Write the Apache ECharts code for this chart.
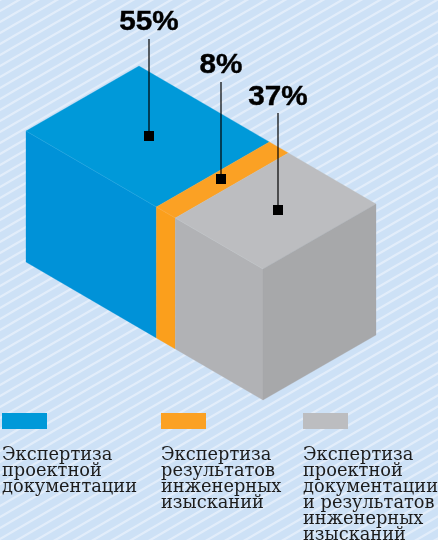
<!DOCTYPE html>
<html><head><meta charset="utf-8">
<style>html,body{margin:0;padding:0;background:#cde1f6}#c{width:438px;height:540px}</style>
<script src="https://cdn.jsdelivr.net/npm/echarts@6/dist/echarts.min.js"></script>
</head><body><div id="c"></div>
<script>
// ---- data ----
const shares = [55, 8, 37];
const shareLabels = ['55%', '8%', '37%'];
const categories = [
  ['Экспертиза', 'проектной', 'документации'],
  ['Экспертиза', 'результатов', 'инженерных', 'изысканий'],
  ['Экспертиза', 'проектной', 'документации', 'и результатов', 'инженерных', 'изысканий']
];
// ---- style ----
const topColors = ['#0099d9', '#fba124', '#bcbdc0'];
const leftColors = ['#0092d8', '#fb9f1c', '#b1b2b5'];
const rightColor = '#a7a8aa';
const seamColors = ['#2aa8e0', '#fcad3f', '#c3c4c6'];
const origin = [26, 131], slope = 138 / 237, back = [113, -65], boxH = 131;
const leaderTop = [39, 82, 113];
const labelY = [23, 65.5, 97.5];
const squareFix = [[1.5, 0], [-1, -1], [2.5, -1]];
const legendX = [2, 161, 303], swatchY = 413, textY = 446, lineH = 16;

// background tile
const TW = 19, TH = 11;
const tile = document.createElement('canvas');
tile.width = TW; tile.height = TH;
(function () {
  const g = tile.getContext('2d');
  g.fillStyle = '#cde1f6'; g.fillRect(0, 0, TW, TH);
  g.strokeStyle = '#e2edfa'; g.lineWidth = 2.3;
  for (let k = -TH * 2; k <= TH * 3; k += TH) {
    g.beginPath(); g.moveTo(-TW, k + TH); g.lineTo(TW * 2, k - TH * 2); g.stroke();
  }
})();

function poly(pts, fill) {
  return { type: 'polygon', shape: { points: pts }, style: { fill: fill, stroke: fill, lineWidth: 0.3 } };
}
const cum = shares.map((s, i) => shares.slice(0, i).reduce((a, b) => a + b, 0));

function renderBox(params, api) {
  const i = params.dataIndex;
  const pt = v => {
    const x = api.coord([v, 0])[0];
    return [x, origin[1] + (x - origin[0]) * slope];
  };
  const a = pt(api.value(0)), b = pt(api.value(0) + api.value(1));
  const up = p => [p[0] + back[0], p[1] + back[1]];
  const dn = p => [p[0], p[1] + boxH];
  const kids = [
    poly([a, b, dn(b), dn(a)], leftColors[i]),
    poly([a, up(a), up(b), b], topColors[i])
  ];
  kids.push({ type: 'line', shape: { x1: a[0], y1: a[1], x2: b[0], y2: b[1] }, style: { stroke: seamColors[i], lineWidth: 0.5 } });
  if (i === shares.length - 1) {
    kids.push(poly([b, up(b), dn(up(b)), dn(b)], rightColor));
  }
  const c = [(a[0] + up(b)[0]) / 2 + squareFix[i][0], (a[1] + up(b)[1]) / 2 + squareFix[i][1]];
  c[0] = Math.round(c[0]); c[1] = Math.round(c[1]);
  kids.push({ type: 'line', shape: { x1: c[0], y1: leaderTop[i], x2: c[0], y2: c[1] }, style: { stroke: '#000', lineWidth: 1.2 } });
  kids.push({ type: 'rect', shape: { x: c[0] - 5, y: c[1] - 5, width: 10, height: 10 }, style: { fill: '#000' } });
  kids.push({
    type: 'text', x: c[0], y: labelY[i], scaleX: 1.1, scaleY: 1,
    style: { text: api.value(2), font: 'bold 27px "Liberation Sans"', fill: '#000', stroke: '#000', lineWidth: 0.4, textAlign: 'center', textVerticalAlign: 'middle' }
  });
  return { type: 'group', children: kids };
}

const legendGraphics = [];
categories.forEach((lines, i) => {
  legendGraphics.push({ type: 'rect', left: legendX[i], top: swatchY, shape: { width: 45, height: 16 }, style: { fill: topColors[i] } });
  lines.forEach((t, j) => legendGraphics.push({
    type: 'text', left: legendX[i], top: textY + j * lineH,
    style: { text: t, font: '17.8px "DejaVu Serif"', fill: '#1c1c1c' }
  }));
});

const chart = echarts.init(document.getElementById('c'), null, { renderer: 'canvas', width: 438, height: 540 });
chart.setOption({
  animation: false,
  backgroundColor: { image: tile, repeat: 'repeat' },
  grid: { left: origin[0], width: 237, top: 0, height: 540 },
  xAxis: { type: 'value', min: 0, max: 100, show: false },
  yAxis: { type: 'value', min: 0, max: 1, show: false },
  graphic: legendGraphics,
  series: [{
    type: 'custom',
    coordinateSystem: 'cartesian2d',
    renderItem: renderBox,
    encode: { x: 0 },
    clip: false,
    silent: true,
    data: shares.map((s, i) => [cum[i], s, shareLabels[i]])
  }]
});
</script></body></html>
